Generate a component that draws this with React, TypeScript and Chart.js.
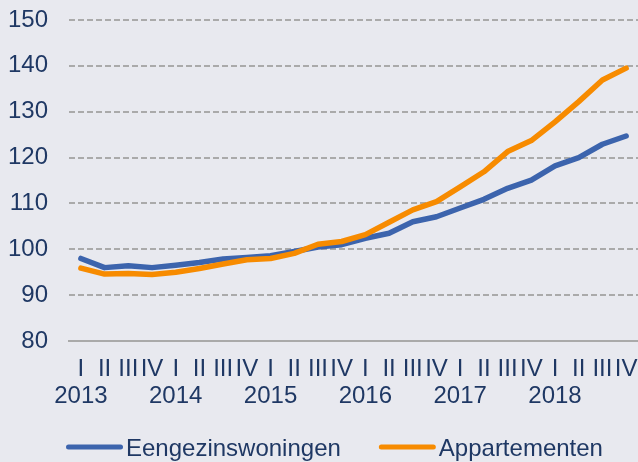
import React, { useEffect, useRef } from "react";
import { Chart, registerables } from "chart.js";

Chart.register(...registerables);

const years = ["2013", "2014", "2015", "2016", "2017", "2018"];
const quarters = ["I", "II", "III", "IV"];

const eengezinswoningen = [
  98.0, 96.0, 96.4, 96.0, 96.5, 97.1, 97.9, 98.2,
  98.6, 99.5, 100.5, 101.0, 102.4, 103.5, 106.0, 107.1,
  109.0, 110.9, 113.3, 115.1, 118.2, 120.0, 122.9, 124.7,
];
const appartementen = [
  95.9, 94.6, 94.7, 94.5, 95.0, 95.8, 96.8, 97.7,
  98.0, 99.1, 101.1, 101.7, 103.2, 105.9, 108.6, 110.4,
  113.6, 116.9, 121.3, 123.7, 127.8, 132.2, 136.9, 139.5,
];
const seriesNames = ["Eengezinswoningen", "Appartementen"];
const seriesColors = ["#3c64ad", "#f78b00"];

const yMin = 80;
const yMax = 150;
const yStep = 10;

const FONT = '"Liberation Sans", Arial, sans-serif';
const TEXT = "#1f3864";
const GRID = "#aaaaaa";
const FONT_SIZE = 24;

const labels: string[][] = [];
years.forEach((y) =>
  quarters.forEach((q) => labels.push(q === "I" ? [q, y] : [q]))
);

const legendPlugin = {
  id: "lineLegend",
  afterDraw(chart: any) {
    const ctx = chart.ctx as CanvasRenderingContext2D;
    ctx.save();
    ctx.font = `${FONT_SIZE}px ${FONT}`;
    ctx.textBaseline = "alphabetic";
    ctx.textAlign = "left";
    let x = 66;
    const yLine = 447;
    const boxLen = 57;
    chart.data.datasets.forEach((ds: any) => {
      ctx.strokeStyle = ds.borderColor;
      ctx.lineWidth = 5;
      ctx.lineCap = "round";
      ctx.beginPath();
      ctx.moveTo(x + 2.5, yLine);
      ctx.lineTo(x + boxLen - 2.5, yLine);
      ctx.stroke();
      ctx.fillStyle = TEXT;
      const tx = x + boxLen + 3;
      ctx.fillText(ds.label, tx, 455.5);
      x = tx + ctx.measureText(ds.label).width + 38;
    });
    ctx.restore();
  },
};

// Chart.js reserves tick padding twice; keep it once and drop label overflow padding.
const fitX = (scale: any) => {
  scale.paddingLeft = 0;
  scale.paddingRight = 0;
  scale.height -= scale.options.ticks.padding;
};
const fitY = (scale: any) => {
  scale.paddingTop = 0;
  scale.paddingBottom = 0;
  scale.width -= scale.options.ticks.padding;
};

export default function App() {
  const ref = useRef<HTMLCanvasElement>(null);
  useEffect(() => {
    if (!ref.current) return;
    const chart = new Chart(ref.current, {
      type: "line",
      data: {
        labels,
        datasets: [
          {
            label: seriesNames[0],
            data: eengezinswoningen,
            borderColor: seriesColors[0],
            backgroundColor: seriesColors[0],
            borderWidth: 5.5,
            pointRadius: 0,
            tension: 0,
            borderCapStyle: "round",
            borderJoinStyle: "round",
            order: 1,
          },
          {
            label: seriesNames[1],
            data: appartementen,
            borderColor: seriesColors[1],
            backgroundColor: seriesColors[1],
            borderWidth: 5.5,
            pointRadius: 0,
            tension: 0,
            borderCapStyle: "round",
            borderJoinStyle: "round",
            order: 0,
          },
        ],
      },
      options: {
        responsive: false,
        animation: false,
        layout: { padding: { left: 8, top: 20, right: 0, bottom: 52 } },
        plugins: {
          legend: { display: false },
          tooltip: { enabled: false },
        },
        scales: {
          x: {
            offset: true,
            afterFit: fitX,
            grid: { display: false, drawTicks: false },
            border: { display: true, color: GRID, width: 2 },
            ticks: {
              autoSkip: false,
              maxRotation: 0,
              padding: 15,
              color: TEXT,
              font: { family: FONT, size: FONT_SIZE, lineHeight: 1.125 },
            },
          },
          y: {
            min: yMin,
            max: yMax,
            afterFit: fitY,
            grid: { color: GRID, lineWidth: 2, drawTicks: false },
            border: { display: false, dash: [6, 3] },
            ticks: {
              stepSize: yStep,
              padding: 21,
              color: TEXT,
              font: { family: FONT, size: FONT_SIZE, lineHeight: 1.125 },
            },
          },
        },
      },
      plugins: [legendPlugin],
    });
    return () => chart.destroy();
  }, []);
  return (
    <div
      style={{
        position: "absolute",
        left: 0,
        top: 0,
        width: 638,
        height: 462,
        background: "#e8e9ef",
      }}
    >
      <canvas ref={ref} width={638} height={462} />
    </div>
  );
}
